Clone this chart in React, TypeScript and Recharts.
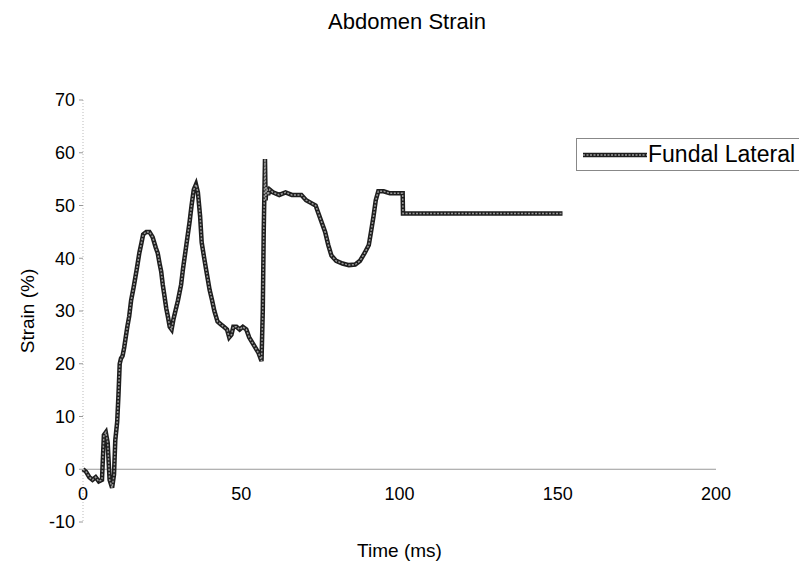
import React from "react";
import { LineChart, Line, XAxis, YAxis, ReferenceLine } from "recharts";

const timeMs: number[] = [
  0, 1, 2, 3, 4, 5, 6, 6.6, 7.2, 7.8, 8.4, 9.2, 9.8, 10.2, 10.8, 11.2, 11.6, 12, 12.5, 13,
  13.5, 14, 14.6, 15.2, 16, 17, 17.8, 18.5, 19, 20, 21, 22, 23, 23.6, 24.2, 24.7, 25.2, 25.7, 26.3, 26.8,
  27.4, 28, 28.6, 29.2, 30, 31, 31.6, 32.3, 33, 33.7, 34.3, 35, 35.7, 36.3, 37, 37.5, 38.3, 39, 40, 40.8,
  41.5, 42.5, 43.5, 44.5, 45.5, 46.2, 46.9, 47.5, 48.5, 49.5, 50.5, 51.6, 52.5, 53.5, 54.5, 55.5, 56.4, 56.8, 57.1, 57.5,
  57.7, 58, 58.5, 59, 60, 62, 64, 66, 69, 70.5, 72, 73.5, 75, 76.5, 77.5, 78.5, 80, 82, 84, 86,
  87.5, 89, 90.3, 91, 91.8, 92.5, 93.3, 95, 97, 99, 101, 101.1, 151.5,
];

const strainPct: number[] = [
  0, -0.5, -1.5, -2, -1.5, -2.3, -2, 6.5, 7, 5, -2, -3.5, -1, 5.5, 9, 14, 20, 21, 21.5, 23,
  25, 27, 29, 32, 34.5, 38, 41, 43, 44.5, 45, 45, 44, 42, 41, 39, 37.5, 35, 33, 30.5, 29,
  27, 26.5, 28.5, 30, 32, 35, 38, 41, 44, 47, 50, 53, 54, 52.5, 48, 43, 40, 37.5, 34, 32,
  30, 28, 27.5, 27, 26.5, 25, 25.5, 27, 27, 26.5, 27, 26.5, 25, 24, 23, 22, 20.5, 30, 45, 58.8,
  51, 53.5, 52, 53, 52.5, 52, 52.5, 52, 52, 51, 50.5, 50, 47.5, 45, 42.5, 40.5, 39.5, 39, 38.7, 38.8,
  39.5, 41, 42.5, 45, 48, 51, 52.7, 52.7, 52.3, 52.3, 52.3, 48.5, 48.5,
];

const xTicks: number[] = [0, 50, 100, 150, 200];
const yTicks: number[] = [-10, 0, 10, 20, 30, 40, 50, 60, 70];

const chartTitle = "Abdomen Strain";
const xLabel = "Time (ms)";
const yLabel = "Strain (%)";
const seriesName = "Fundal Lateral";

const data = timeMs.map((t, i) => ({ t, s: strainPct[i] }));

const FONT = "'Liberation Sans', Arial, sans-serif";

const XTick = (props: any) => {
  const { x, payload } = props;
  return (
    <text x={x} y={500} textAnchor="middle" fontFamily={FONT} fontSize={18} fill="#000">
      {payload.value}
    </text>
  );
};

export default function App() {
  return (
    <div style={{ position: "absolute", left: 0, top: 0, width: 799, height: 568, background: "#fff", fontFamily: FONT, overflow: "hidden" }}>
      <LineChart
        width={799}
        height={568}
        data={data}
        margin={{ top: 100, right: 83, bottom: 16, left: 0 }}
      >
        <XAxis
          dataKey="t"
          type="number"
          domain={[0, 200]}
          ticks={xTicks}
          axisLine={false}
          tickLine={false}
          height={30}
          tick={<XTick />}
          interval={0}
        />
        <YAxis
          type="number"
          domain={[-10, 70]}
          ticks={yTicks}
          width={83}
          axisLine={{ stroke: "#bbb", strokeDasharray: "1 2" }}
          tickLine={{ stroke: "#999" }}
          tickSize={4}
          tickMargin={4}
          interval={0}
          tick={{ fill: "#000", fontSize: 18, fontFamily: FONT }}
        />
        <ReferenceLine y={0} stroke="#999" strokeWidth={1} />
        <Line
          dataKey="s"
          type="linear"
          stroke="#1e1e1e"
          strokeWidth={4.5}
          dot={false}
          isAnimationActive={false}
        />
        <Line
          dataKey="s"
          type="linear"
          stroke="#9a9a9a"
          strokeWidth={1.5}
          strokeDasharray="2 1.5"
          dot={false}
          isAnimationActive={false}
        />
      </LineChart>
      <div style={{ position: "absolute", left: 0, width: 814, top: 9, textAlign: "center", fontSize: 22, color: "#000" }}>
        {chartTitle}
      </div>
      <div style={{ position: "absolute", left: 83, width: 633, top: 540, textAlign: "center", fontSize: 19, color: "#000" }}>
        {xLabel}
      </div>
      <div
        style={{
          position: "absolute",
          left: 28,
          top: 311,
          transform: "translate(-50%, -50%) rotate(-90deg)",
          fontSize: 19,
          whiteSpace: "nowrap",
          color: "#000",
        }}
      >
        {yLabel}
      </div>
      <div
        style={{
          position: "absolute",
          left: 576,
          top: 138,
          width: 240,
          height: 33,
          border: "1px solid #888",
          boxSizing: "border-box",
          display: "flex",
          alignItems: "center",
        }}
      >
        <svg width={70} height={10} style={{ marginLeft: 6 }}>
          <line x1={0} y1={5} x2={64} y2={5} stroke="#1e1e1e" strokeWidth={4.5} />
          <line x1={0} y1={5} x2={64} y2={5} stroke="#9a9a9a" strokeWidth={1.5} strokeDasharray="2 1.5" />
        </svg>
        <span style={{ fontSize: 23, marginLeft: -5, whiteSpace: "nowrap" }}>{seriesName}</span>
      </div>
    </div>
  );
}
